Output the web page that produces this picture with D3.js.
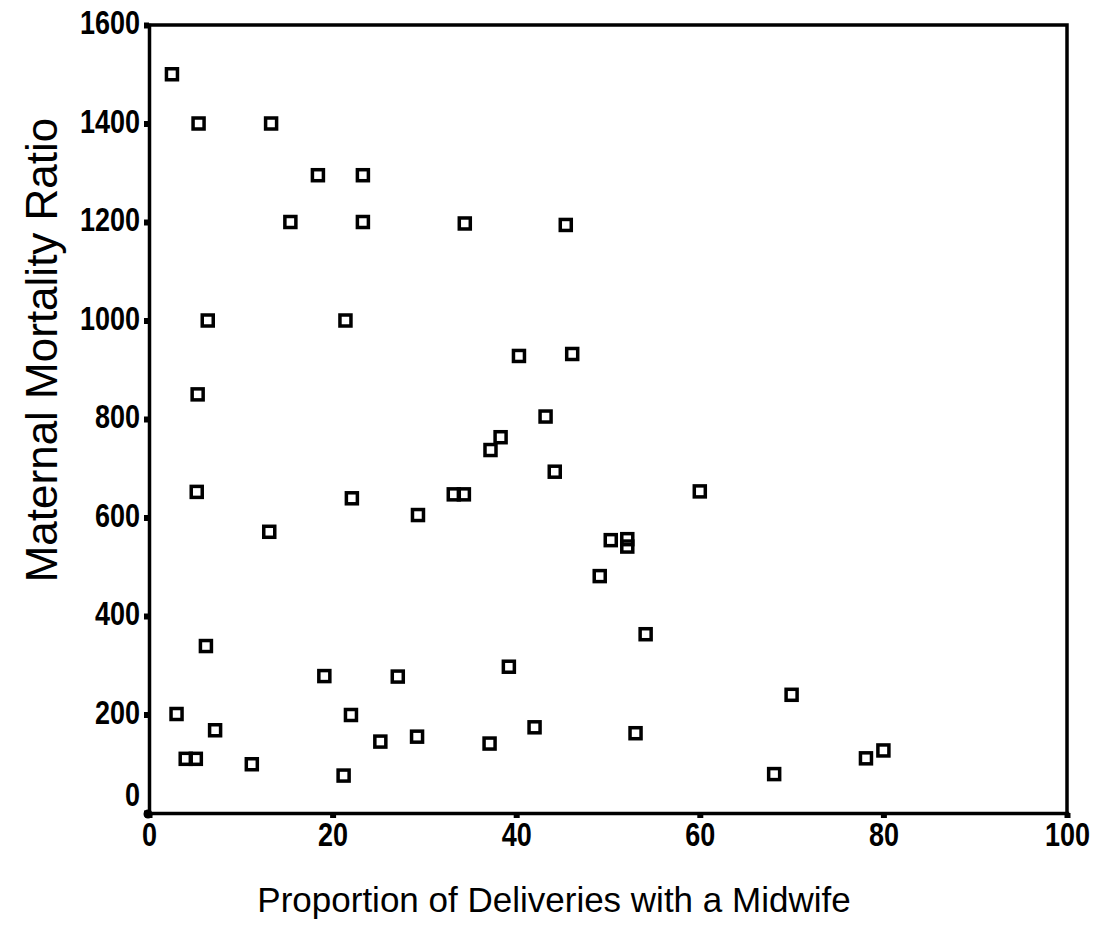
<!DOCTYPE html>
<html>
<head>
<meta charset="utf-8">
<script src="https://cdn.jsdelivr.net/npm/d3@7"></script>
<style>
  body { margin: 0; background: #fff; }
  .tick text { font-family: "Liberation Sans", Arial, sans-serif; font-weight: bold; font-size: 27px; fill: #000; }
  .title { font-family: "Liberation Sans", Arial, sans-serif; fill: #000; }
</style>
</head>
<body>
<div id="chart"></div>
<script>
// proportion of deliveries with a midwife (%)
let midwife = [2.5, 5.4, 13.3, 18.4, 23.3, 15.4, 23.3, 34.4, 45.4, 6.4,
               21.4, 40.3, 46.1, 5.3, 43.2, 38.3, 37.2, 44.2, 5.2, 22.1,
               33.2, 34.3, 60.0, 29.3, 13.1, 50.3, 52.1, 52.1, 49.1, 54.1,
               6.2, 39.2, 19.1, 27.1, 70.0, 3.0, 22.0, 7.2, 42.0, 53.0,
               29.2, 25.2, 37.1, 80.0, 78.1, 4.0, 5.1, 11.2, 68.1, 21.2];
// maternal mortality ratio
let mortality = [1500, 1400, 1400, 1295, 1295, 1200, 1200, 1197, 1194, 1000,
                 1000, 928, 932, 850, 805, 763, 737, 693, 652, 639,
                 647, 647, 653, 605, 571, 554, 556, 541, 481, 363,
                 339, 297, 278, 277, 240, 201, 199, 168, 174, 162,
                 155, 145, 141, 127, 111, 110, 110, 99, 79, 76];
let xTicks = [0, 20, 40, 60, 80, 100];
let yTicks = [0, 200, 400, 600, 800, 1000, 1200, 1400, 1600];

let data = midwife.map((x, i) => ({x, y: mortality[i]}));

let width = 1095, height = 951;
let svg = d3.select("#chart").append("svg")
    .attr("width", width)
    .attr("height", height);

let x_scale = d3.scaleLinear().domain([0, 100]).range([149, 1067]);
let y_scale = d3.scaleLinear().domain([0, 1600]).range([813, 25]);

// frame top and right
svg.append("path")
    .attr("d", `M${x_scale(0)},${y_scale(1600)}H${x_scale(100)}V${y_scale(0)}`)
    .attr("fill", "none")
    .attr("stroke", "#000")
    .attr("stroke-width", 3.5);

let xAxis = svg.append("g")
    .attr("transform", `translate(0,${y_scale(0)})`)
    .call(d3.axisBottom(x_scale).tickValues(xTicks).tickFormat(d3.format("d"))
        .tickSize(5).tickPadding(6));

let yAxis = svg.append("g")
    .attr("transform", `translate(${x_scale(0)},0)`)
    .call(d3.axisLeft(y_scale).tickValues(yTicks).tickFormat(d3.format("d"))
        .tickSize(5).tickPadding(4));

[xAxis, yAxis].forEach(g => {
    g.select(".domain").attr("stroke", "#000").attr("stroke-width", 3.5);
    g.selectAll(".tick line").attr("stroke", "#000").attr("stroke-width", 6);
});

// labels in the scan are taller than wide
xAxis.selectAll(".tick text").attr("y", 8).attr("transform", "scale(1,1.2)");
yAxis.selectAll(".tick text").attr("dy", "0.27em").attr("transform", "scale(1,1.2)");
// the y "0" label sits a little above its tick
yAxis.selectAll(".tick text").filter(d => d === 0).attr("dy", "-0.22em");

// dot at origin
svg.append("circle")
    .attr("cx", x_scale(0) - 1)
    .attr("cy", y_scale(0) + 1)
    .attr("r", 4.5);

svg.selectAll("rect.pt")
    .data(data)
    .enter().append("rect")
    .attr("class", "pt")
    .attr("x", d => x_scale(d.x) - 5.5)
    .attr("y", d => y_scale(d.y) - 5.5)
    .attr("width", 11)
    .attr("height", 11)
    .attr("fill", "none")
    .attr("stroke", "#000")
    .attr("stroke-width", 3.5);

svg.append("text")
    .attr("class", "title")
    .attr("x", 554)
    .attr("y", 912)
    .attr("text-anchor", "middle")
    .style("font-size", "35px")
    .text("Proportion of Deliveries with a Midwife");

svg.append("text")
    .attr("class", "title")
    .attr("transform", "translate(57,350) rotate(-90)")
    .attr("text-anchor", "middle")
    .style("font-size", "44px")
    .text("Maternal Mortality Ratio");
</script>
</body>
</html>
